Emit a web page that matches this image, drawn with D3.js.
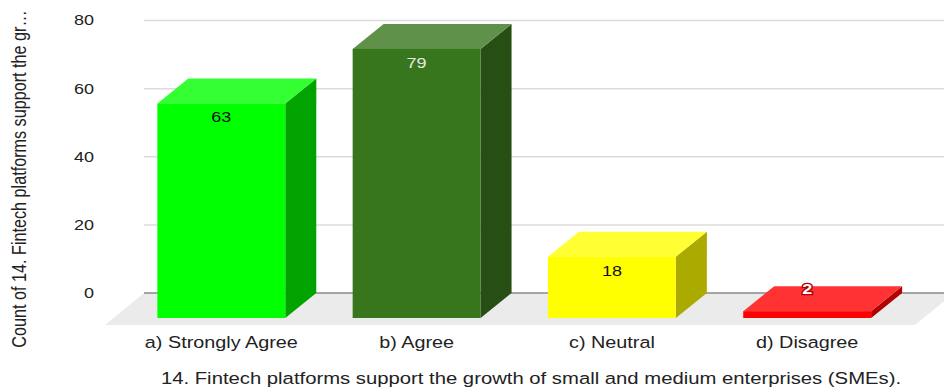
<!DOCTYPE html>
<html>
<head>
<meta charset="utf-8">
<script src="https://cdn.jsdelivr.net/npm/d3@7/dist/d3.min.js"></script>
<style>
  html, body { margin: 0; padding: 0; background: #fff; }
  svg { display: block; font-family: "Liberation Sans", Arial, sans-serif; }
</style>
</head>
<body>
<svg id="chart" width="944" height="392"></svg>
<script>
// Survey answers and their counts
const categories = ["a) Strongly Agree", "b) Agree", "c) Neutral", "d) Disagree"];
const counts = [63, 79, 18, 2];
const yTicks = [0, 20, 40, 60, 80];
const frontColors = ["#00ff00", "#38761d", "#ffff00", "#ff0000"];
const topColors = ["#33ff33", "#5f914a", "#ffff33", "#ff3333"];
const sideColors = ["#00a300", "#274e13", "#aaaa00", "#b00000"];
const labelColors = ["#111", "#e8e8e8", "#111", "#fff"];
const xTitle = "14. Fintech platforms support the growth of small and medium enterprises (SMEs).";
const yTitle = "Count of 14. Fintech platforms support the gr\u2026";

const W = 944, H = 392;
const DX = 31, DY = -25;          // depth offset of the 3D boxes
const STRETCH = 1.2;              // horizontal text stretch
const svg = d3.select("#chart");

const x = d3.scaleBand().domain(categories).range([90, 938.5]).padding(0.345);
const y = d3.scaleLinear().domain([0, 80]).range([318, 45.5]);
const yBack = v => y(v) + DY;

function stretchedText(g, px, py, txt) {
  return g.append("text")
    .attr("transform", `translate(${px},${py}) scale(${STRETCH},1)`)
    .text(txt);
}

// gridlines on the back wall
const grid = svg.append("g");
yTicks.filter(t => t !== 0).forEach(t => {
  grid.append("line")
    .attr("x1", 144).attr("x2", W)
    .attr("y1", yBack(t)).attr("y2", yBack(t))
    .attr("stroke", "#dcdcdc").attr("stroke-width", 1.5);
});

// floor
const floorFront = y(0) + 7, floorBack = yBack(0);
const fdx = (floorFront - floorBack) * 1.22;
svg.append("path")
  .attr("d", `M105,${floorFront} L915,${floorFront} L${915 + fdx},${floorBack} L${105 + fdx},${floorBack} Z`)
  .attr("fill", "#ebebeb");
svg.append("line")
  .attr("x1", 144).attr("x2", W)
  .attr("y1", floorBack).attr("y2", floorBack)
  .attr("stroke", "#8a8a8a").attr("stroke-width", 1.5);

// tick labels
const tickG = svg.append("g").attr("fill", "#222").attr("font-size", 15)
  .attr("text-anchor", "end").attr("dominant-baseline", "central");
yTicks.forEach(t => stretchedText(tickG, 94, yBack(t), t));

// 3D bars
const bars = svg.append("g");
categories.forEach((c, i) => {
  const v = counts[i];
  const x0 = x(c), x1 = x0 + x.bandwidth();
  const yt = y(v), yb = y(0);
  const g = bars.append("g");
  g.append("path") // side
    .attr("d", `M${x1},${yb} L${x1 + DX},${yb + DY} L${x1 + DX},${yt + DY} L${x1},${yt} Z`)
    .attr("fill", sideColors[i]);
  g.append("path") // top
    .attr("d", `M${x0},${yt} L${x0 + DX},${yt + DY} L${x1 + DX},${yt + DY} L${x1},${yt} Z`)
    .attr("fill", topColors[i]);
  g.append("rect") // front
    .attr("x", x0).attr("y", yt)
    .attr("width", x.bandwidth()).attr("height", yb - yt)
    .attr("fill", frontColors[i]);

  const short = (yb - yt) < 28;
  const lbl = stretchedText(g, x0 + x.bandwidth() / 2, short ? yt - 22 : yt + 14, v)
    .attr("text-anchor", "middle").attr("dominant-baseline", "central")
    .attr("font-size", 15).attr("fill", labelColors[i]);
  if (short) {
    lbl.attr("stroke", "#b00000").attr("stroke-width", 2.5)
      .attr("paint-order", "stroke").attr("font-weight", "bold");
  }
});

// category labels
const catG = svg.append("g").attr("fill", "#222").attr("font-size", 16.5)
  .attr("text-anchor", "middle");
categories.forEach(c => stretchedText(catG, x(c) + x.bandwidth() / 2, 348, c));

// axis titles
svg.append("text")
  .attr("transform", `translate(531,384) scale(${STRETCH},1)`)
  .attr("text-anchor", "middle").attr("font-size", 16.9).attr("fill", "#222")
  .text(xTitle);
svg.append("text")
  .attr("transform", `translate(26,179) scale(${STRETCH},1) rotate(-90)`)
  .attr("text-anchor", "middle").attr("font-size", 16.2).attr("fill", "#222")
  .text(yTitle);
</script>
</body>
</html>
